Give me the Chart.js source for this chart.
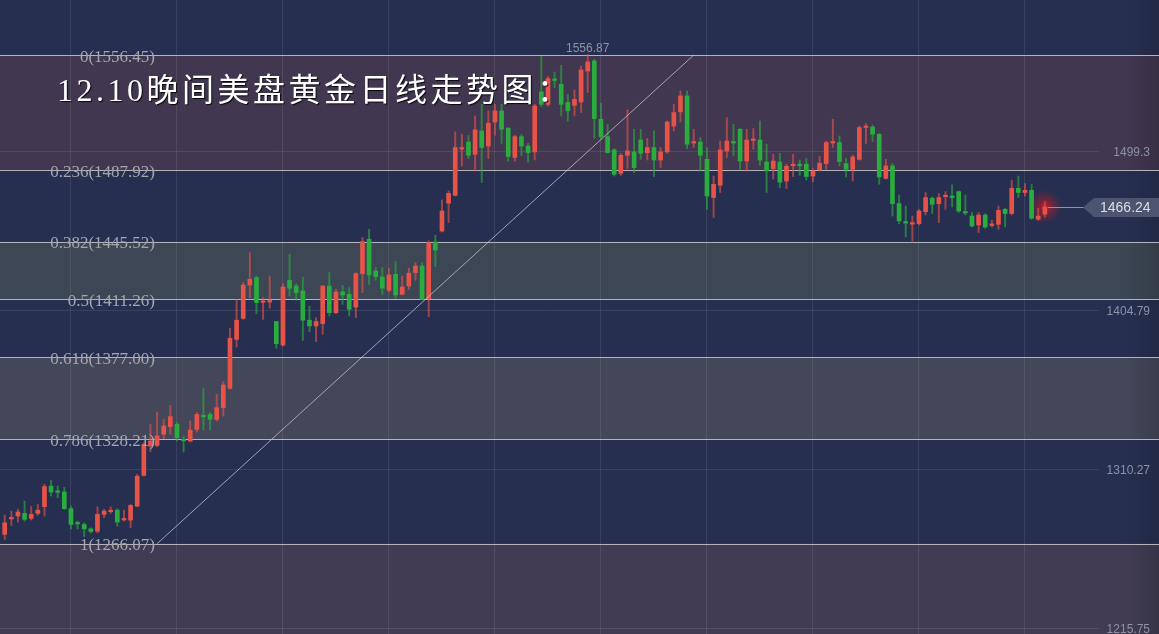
<!DOCTYPE html>
<html>
<head>
<meta charset="utf-8">
<script src="https://cdn.jsdelivr.net/npm/chart.js@4/dist/chart.umd.min.js"></script>
<style>
html,body{margin:0;padding:0;background:#272f50;overflow:hidden}
#wrap{position:relative;width:1159px;height:634px}
canvas{display:block}
</style>
</head>
<body>
<div id="wrap"><canvas id="c" width="1159" height="634"></canvas></div>
<script>
// ---- data (daily gold candles) ----
const opens = [1271.6,1280.8,1282.5,1284.1,1281.1,1284.1,1288.1,1300.3,1297.2,1296.8,
1286.9,1278.4,1277.5,1274.9,1273.5,1283.5,1285.1,1286.0,1280.2,1280.1,
1288.4,1306.7,1324.1,1324.5,1331.1,1335.6,1337.0,1327.8,1327.1,1334.0,
1342.4,1342.9,1340.0,1346.9,1358.4,1387.5,1400.0,1419.8,1424.2,1409.5,
1409.7,1398.1,1384.1,1422.6,1419.2,1416.3,1398.9,1395.5,1396.9,1419.2,
1403.4,1415.7,1414.3,1406.7,1426.6,1447.0,1428.1,1424.6,1416.7,1426.2,
1414.3,1419.2,1427.2,1431.1,1411.7,1445.4,1451.9,1468.4,1473.1,1500.6,
1504.8,1497.5,1511.4,1502.4,1516.7,1523.3,1513.0,1495.6,1508.0,1502.4,
1498.9,1534.6,1527.2,1542.0,1539.1,1528.3,1526.6,1528.6,1547.0,1553.0,
1518.3,1508.0,1500.1,1486.2,1496.9,1498.9,1506.0,1498.5,1501.5,1494.1,
1498.9,1514.3,1522.7,1532.2,1504.2,1504.8,1494.5,1471.8,1479.1,1499.5,
1504.8,1512.4,1493.5,1505.7,1506.0,1492.9,1489.0,1492.9,1481.6,1490.7,
1491.3,1491.6,1484.6,1488.2,1492.0,1504.2,1504.5,1492.0,1488.6,1494.5,
1513.4,1513.7,1509.4,1483.2,1490.6,1468.2,1457.2,1456.0,1456.3,1463.4,
1471.4,1468.2,1472.3,1472.4,1475.3,1463.2,1460.8,1455.5,1461.4,1455.2,
1455.9,1464.8,1462.3,1477.3,1474.8,1476.1,1458.9,1461.9];
const highs = [1283.1,1285.4,1286.5,1291.4,1288.2,1289.4,1301.4,1303.7,1300.3,1299.5,
1288.4,1279.5,1278.5,1275.5,1288.0,1286.5,1288.0,1286.9,1286.0,1289.4,
1307.3,1326.1,1337.0,1344.3,1340.0,1348.3,1338.0,1330.1,1339.0,1344.0,
1358.2,1344.0,1354.8,1362.4,1394.1,1411.3,1421.3,1439.1,1425.2,1412.3,
1425.2,1398.1,1420.6,1438.1,1420.6,1424.6,1407.3,1400.4,1419.6,1427.2,
1417.3,1419.6,1418.3,1427.2,1448.0,1452.9,1430.2,1430.2,1429.8,1433.7,
1425.2,1429.8,1433.1,1433.1,1446.0,1449.4,1470.4,1475.7,1510.8,1509.4,
1508.8,1520.3,1527.2,1523.3,1527.2,1527.2,1513.4,1508.8,1509.4,1504.0,
1527.2,1555.6,1543.7,1546.4,1550.4,1533.2,1535.7,1550.0,1556.87,1554.0,
1527.8,1515.3,1500.9,1498.1,1523.9,1512.4,1512.4,1506.9,1511.4,1501.5,
1517.3,1527.2,1535.2,1535.2,1512.4,1507.4,1501.5,1484.6,1505.4,1519.3,
1515.3,1512.8,1512.4,1512.8,1517.3,1503.5,1497.5,1498.1,1491.6,1497.5,
1494.1,1495.0,1489.0,1496.2,1505.4,1518.3,1508.4,1495.1,1497.1,1514.3,
1515.8,1514.9,1509.8,1494.5,1492.0,1473.3,1466.8,1460.8,1464.8,1474.8,
1472.1,1474.2,1475.3,1479.3,1475.7,1473.3,1462.9,1462.9,1462.3,1458.3,
1466.8,1465.4,1482.1,1484.6,1480.1,1479.7,1465.4,1469.4];
const lows = [1268.6,1276.9,1278.9,1279.5,1280.1,1282.9,1282.5,1294.4,1293.4,1286.5,
1274.9,1274.9,1270.2,1272.5,1272.5,1281.5,1284.1,1276.5,1279.5,1275.5,
1288.0,1306.2,1320.6,1323.7,1328.5,1331.1,1327.1,1320.6,1326.5,1332.4,
1333.6,1333.6,1339.0,1341.9,1357.8,1383.0,1399.4,1412.3,1402.8,1399.4,
1406.0,1382.2,1383.5,1413.3,1410.7,1386.9,1392.1,1386.2,1390.5,1401.4,
1402.8,1408.3,1401.4,1400.4,1415.3,1420.2,1422.6,1414.3,1415.7,1411.9,
1413.9,1417.3,1422.6,1411.0,1401.0,1430.8,1451.3,1456.9,1472.7,1490.6,
1495.0,1487.6,1480.7,1495.0,1508.8,1504.0,1493.5,1493.5,1496.9,1492.9,
1494.1,1525.9,1526.2,1537.2,1520.3,1517.3,1520.3,1522.3,1534.2,1506.9,
1506.4,1498.1,1484.6,1485.0,1489.0,1486.6,1494.5,1494.1,1484.3,1489.6,
1498.1,1511.4,1516.7,1500.9,1501.5,1487.6,1464.8,1459.9,1474.8,1495.6,
1496.5,1488.6,1487.6,1500.5,1491.0,1474.8,1482.7,1477.7,1477.1,1484.3,
1485.0,1482.2,1481.1,1487.6,1488.6,1501.5,1490.6,1484.0,1481.6,1494.0,
1503.9,1505.1,1479.7,1482.7,1460.8,1456.3,1448.4,1446.0,1455.5,1461.4,
1462.3,1456.9,1464.8,1466.2,1462.9,1461.4,1454.3,1451.0,1453.5,1454.3,
1452.9,1454.3,1461.4,1471.8,1472.7,1458.9,1458.3,1460.2];
const closes = [1278.5,1281.4,1284.9,1280.5,1283.5,1286.0,1300.0,1296.8,1296.6,1286.9,
1277.5,1277.8,1274.9,1273.3,1283.5,1285.4,1285.7,1278.9,1280.8,1288.8,
1306.2,1325.1,1327.1,1330.1,1336.0,1341.6,1329.1,1327.2,1333.6,1342.9,
1341.5,1340.0,1346.9,1360.4,1388.1,1398.9,1419.8,1423.2,1409.4,1410.1,
1410.3,1384.9,1418.6,1417.9,1415.3,1398.9,1395.5,1398.1,1419.2,1403.4,
1415.7,1413.9,1405.4,1426.6,1445.6,1425.8,1424.8,1417.9,1425.8,1413.9,
1418.6,1426.8,1431.1,1411.3,1445.0,1440.6,1463.8,1474.3,1501.5,1501.2,
1496.9,1512.0,1501.5,1516.0,1523.3,1512.4,1496.2,1508.0,1502.4,1498.5,
1526.2,1527.2,1542.5,1541.4,1527.2,1523.3,1530.2,1547.6,1552.4,1518.7,
1508.0,1498.5,1485.6,1496.9,1499.5,1489.6,1498.1,1501.5,1494.1,1498.9,
1516.7,1522.3,1532.2,1503.5,1504.8,1496.9,1472.7,1479.7,1500.1,1505.4,
1504.2,1493.5,1506.0,1506.3,1494.1,1487.6,1493.5,1480.9,1490.4,1491.3,
1490.7,1484.3,1487.6,1492.2,1504.5,1504.8,1493.2,1488.6,1495.9,1513.4,
1514.0,1509.4,1484.0,1490.6,1468.2,1457.9,1456.6,1456.6,1463.8,1471.8,
1467.8,1471.8,1472.8,1471.8,1463.8,1462.6,1454.9,1461.4,1454.3,1455.8,
1464.2,1462.3,1477.3,1474.8,1476.1,1459.5,1460.8,1466.24];

const fibRatios = ['0','0.236','0.382','0.5','0.618','0.786','1'];
const fibPrices = [1556.45,1487.92,1445.52,1411.26,1377.00,1328.21,1266.07];
const yTickValues = [1215.75,1310.27,1404.79,1499.3];
const yTickLabels = ['1215.75','1310.27','1404.79','1499.3'];
const highLabel = '1556.87';
const lastPrice = 1466.24;
const lastPriceLabel = '1466.24';
const trendPoints = [{x:23,y:1266.07},{x:104,y:1556.45}];
const titleText = '12.10晚间美盘黄金日线走势图：';

// ---- styles ----
const UP = '#e85348', UP_WICK = 'rgba(232,83,72,0.62)';
const DOWN = '#2aac3e', DOWN_WICK = 'rgba(42,172,62,0.62)';
const BG = '#272f50';
const LABEL = '#8d91a5';
const bandFills = [
  {from:0, to:1, color:'#413750'},
  {from:2, to:3, color:'#3c4654'},
  {from:4, to:5, color:'#44465a'},
  {from:6, to:null, color:'#413c53'}
];
const gridStart = 9.86, gridStep = 16, gridCount = 10;

const isUp = i => closes[i] >= opens[i];

const decor = {
  id:'decor',
  beforeDraw(chart){
    const {ctx, scales:{x,y}} = chart;
    ctx.save();
    ctx.fillStyle = BG;
    ctx.fillRect(0,0,chart.width,chart.height);
    bandFills.forEach(b=>{
      const y1 = y.getPixelForValue(fibPrices[b.from]);
      const y2 = b.to===null ? chart.height : y.getPixelForValue(fibPrices[b.to]);
      ctx.fillStyle = b.color;
      ctx.fillRect(0, y1, chart.width, y2-y1);
    });
    const g = ctx.createLinearGradient(1125,0,1159,0);
    g.addColorStop(0,'rgba(0,0,0,0)');
    g.addColorStop(1,'rgba(0,0,0,0.14)');
    ctx.fillStyle = g;
    ctx.fillRect(1125,0,34,chart.height);
    ctx.strokeStyle = 'rgba(255,255,255,0.09)';
    ctx.lineWidth = 1;
    for(let k=0;k<gridCount;k++){
      const px = Math.round(x.getPixelForValue(gridStart+gridStep*k))+0.5;
      ctx.beginPath(); ctx.moveTo(px,0); ctx.lineTo(px,chart.height); ctx.stroke();
    }
    yTickValues.forEach(v=>{
      const py = Math.round(y.getPixelForValue(v))+0.5;
      ctx.beginPath(); ctx.moveTo(0,py); ctx.lineTo(1099,py); ctx.stroke();
    });
    ctx.strokeStyle = '#b3b3bb';
    ctx.lineWidth = 1.2;
    fibPrices.forEach(p=>{
      const py = Math.round(y.getPixelForValue(p))+0.5;
      ctx.beginPath(); ctx.moveTo(0,py); ctx.lineTo(chart.width,py); ctx.stroke();
    });
    ctx.restore();
  },
  beforeDatasetsDraw(chart){
    const {ctx, scales:{x,y}} = chart;
    const n = closes.length-1;
    const cx = x.getPixelForValue(n), cy = y.getPixelForValue(lastPrice);
    ctx.save();
    const rg = ctx.createRadialGradient(cx,cy,0,cx,cy,17);
    rg.addColorStop(0,'rgba(255,20,20,0.75)');
    rg.addColorStop(0.45,'rgba(230,20,30,0.35)');
    rg.addColorStop(1,'rgba(200,20,40,0)');
    ctx.fillStyle = rg;
    ctx.beginPath(); ctx.arc(cx,cy,17,0,Math.PI*2); ctx.fill();
    ctx.restore();
  },
  afterDatasetsDraw(chart){
    const {ctx, scales:{x,y}} = chart;
    ctx.save();
    ctx.font = '17px "Liberation Serif", "DejaVu Serif", serif';
    ctx.fillStyle = '#a6a6ae';
    ctx.textAlign = 'right';
    ctx.textBaseline = 'middle';
    fibPrices.forEach((p,i)=>{
      const py = y.getPixelForValue(p);
      ctx.fillText(fibRatios[i]+'('+p.toFixed(2)+')', 155, py+2);
    });
    ctx.font = '12px "Liberation Sans", Arial, sans-serif';
    ctx.fillStyle = LABEL;
    ctx.textAlign = 'right';
    yTickValues.forEach((v,i)=>{
      ctx.fillText(yTickLabels[i], 1150, y.getPixelForValue(v)+1);
    });
    let hi = 0;
    highs.forEach((h,i)=>{ if(h>highs[hi]) hi=i; });
    ctx.textAlign = 'center';
    ctx.textBaseline = 'alphabetic';
    ctx.fillText(highLabel, x.getPixelForValue(hi), y.getPixelForValue(fibPrices[0])-3);
    const n = closes.length-1;
    const ly = Math.round(y.getPixelForValue(lastPrice))+0.5;
    ctx.strokeStyle = '#8e92a4';
    ctx.lineWidth = 1;
    ctx.beginPath(); ctx.moveTo(x.getPixelForValue(n)+3, ly); ctx.lineTo(1084, ly); ctx.stroke();
    ctx.fillStyle = '#4c5470';
    ctx.beginPath();
    ctx.moveTo(1083, ly);
    ctx.lineTo(1094, ly-9.5);
    ctx.lineTo(1159, ly-9.5);
    ctx.lineTo(1159, ly+9.5);
    ctx.lineTo(1094, ly+9.5);
    ctx.closePath(); ctx.fill();
    ctx.fillStyle = '#dcdee6';
    ctx.font = '14px "Liberation Sans", Arial, sans-serif';
    ctx.textAlign = 'left';
    ctx.textBaseline = 'middle';
    ctx.fillText(lastPriceLabel, 1100, ly+0.5);
    ctx.font = '32px "Liberation Serif", "Noto Sans CJK SC", serif';
    try { ctx.letterSpacing = '3.5px'; } catch(e){}
    ctx.textAlign = 'left';
    ctx.textBaseline = 'alphabetic';
    ctx.shadowColor = 'rgba(0,0,0,0.85)';
    ctx.shadowOffsetX = 1; ctx.shadowOffsetY = 1; ctx.shadowBlur = 1;
    ctx.fillStyle = '#ffffff';
    ctx.fillText(titleText, 57, 101);
    ctx.restore();
  }
};

new Chart(document.getElementById('c'), {
  type:'bar',
  data:{
    datasets:[
      {
        type:'line', label:'trend', order:0,
        data: trendPoints,
        borderColor:'rgba(200,200,208,0.75)', borderWidth:1,
        pointRadius:0, fill:false, tension:0
      },
      {
        label:'body', order:1,
        data: opens.map((o,i)=>({x:i, y:[o, closes[i]]})),
        backgroundColor: ctx => isUp(ctx.dataIndex) ? UP : DOWN,
        barThickness:4, minBarLength:1.5, borderWidth:0, grouped:false
      },
      {
        label:'wick', order:2,
        data: highs.map((h,i)=>({x:i, y:[lows[i], h]})),
        backgroundColor: ctx => isUp(ctx.dataIndex) ? UP_WICK : DOWN_WICK,
        barThickness:1.3, borderWidth:0, grouped:false
      }
    ]
  },
  options:{
    responsive:false,
    devicePixelRatio:1,
    animation:false,
    layout:{padding:0},
    plugins:{legend:{display:false}, tooltip:{enabled:false}, title:{display:false}},
    scales:{
      x:{type:'linear', min:-0.71, max:174.23, offset:false, display:false},
      y:{type:'linear', min:1212.4, max:1589.2, display:false}
    }
  },
  plugins:[decor]
});
</script>
</body>
</html>
